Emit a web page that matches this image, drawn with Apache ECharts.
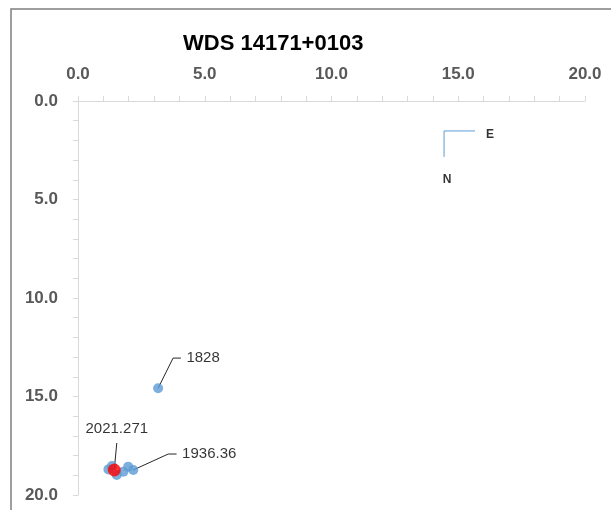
<!DOCTYPE html>
<html>
<head>
<meta charset="utf-8">
<script src="https://cdn.jsdelivr.net/npm/echarts@6/dist/echarts.min.js"></script>
<style>html,body{margin:0;padding:0;background:#fff}#c{width:611px;height:510px}</style>
</head>
<body>
<div id="c"></div>
<script>
const chartTitle = 'WDS 14171+0103';
const axisMin = 0, axisMax = 20, axisStep = 5;
const blueX = [1.20, 1.34, 1.53, 1.79, 1.98, 2.18, 3.16];
const blueY = [18.70, 18.53, 18.98, 18.82, 18.56, 18.73, 14.58];
const redX = [1.43];
const redY = [18.73];
const leader1828 = [[3.16, 14.58], [3.75, 13.05], [4.06, 13.05]];
const leader1936 = [[2.18, 18.73], [3.56, 17.92], [3.89, 17.92]];
const leader2021 = [[1.43, 18.73], [1.53, 17.36]];
const labelNames = ['1828', '1936.36', '2021.271'];
const labelPos = [[4.06, 13.05], [3.89, 17.92], [1.53, 17.36]];
const labelSide = ['right', 'right', 'top'];
const compassLines = [[15.66, 1.52], [14.44, 1.52], [14.44, 2.84]];
const compassNames = ['E', 'N'];
const compassPos = [[16.25, 1.73], [14.56, 4.0]];

const chart = echarts.init(document.getElementById('c'));
const fmt = v => v.toFixed(1);
const axisCommon = {
  type: 'value', min: axisMin, max: axisMax, interval: axisStep,
  axisLine: { show: true, lineStyle: { color: '#d9d9d9', width: 1 } },
  axisTick: { show: true, length: 5, lineStyle: { color: '#d9d9d9' } },
  minorTick: { show: true, splitNumber: 5, length: 5, lineStyle: { color: '#d9d9d9' } },
  splitLine: { show: false },
  axisLabel: { formatter: fmt, fontFamily: 'Liberation Sans', fontWeight: 'bold', fontSize: 17, color: '#595959', margin: 18 }
};
const lineStyleLeader = { color: '#262626', width: 1 };
const series = [
  { type: 'line', data: leader1828, symbol: 'none', lineStyle: lineStyleLeader, silent: true, z: 1 },
  { type: 'line', data: leader1936, symbol: 'none', lineStyle: lineStyleLeader, silent: true, z: 1 },
  { type: 'line', data: leader2021, symbol: 'none', lineStyle: lineStyleLeader, silent: true, z: 1 },
  { type: 'line', data: compassLines, symbol: 'none', lineStyle: { color: '#5b9bd5', width: 1 }, silent: true },
  { type: 'scatter', data: blueX.map((x, i) => [x, blueY[i]]), symbolSize: 10, itemStyle: { color: '#5b9bd5' }, z: 3 },
  { type: 'scatter', data: redX.map((x, i) => [x, redY[i]]), symbolSize: 13, itemStyle: { color: '#ff0000' }, z: 4 },
  { type: 'scatter', symbolSize: 1, itemStyle: { color: 'rgba(0,0,0,0)' }, z: 5,
    data: labelPos.map((p, i) => ({ value: p, name: labelNames[i],
      label: { show: true, position: labelSide[i], distance: labelSide[i] === 'top' ? 6 : 5, formatter: '{b}',
        fontFamily: 'Liberation Sans', fontSize: 15, color: '#000' } })) },
  { type: 'scatter', symbolSize: 1, itemStyle: { color: 'rgba(0,0,0,0)' }, z: 5,
    data: compassPos.map((p, i) => ({ value: p, name: compassNames[i],
      label: { show: true, position: 'inside', formatter: '{b}',
        fontFamily: 'Liberation Sans', fontWeight: 'bold', fontSize: 12, color: '#000' } })) }
];
chart.setOption({
  animation: false,
  title: { text: chartTitle, left: 178, top: 28, textStyle: { fontFamily: 'Liberation Sans', fontWeight: 'bold', fontSize: 22, color: '#000' } },
  grid: { left: 78, top: 101, width: 507, height: 394 },
  xAxis: Object.assign({}, axisCommon, { position: 'top' }),
  yAxis: Object.assign({}, axisCommon, { inverse: true, axisLabel: Object.assign({}, axisCommon.axisLabel, { margin: 20 }) }),
  series: series,
  graphic: [{ type: 'rect', shape: { x: 11, y: 9, width: 700, height: 600 }, style: { fill: 'none', stroke: '#7f7f7f', lineWidth: 1.5 }, silent: true }]
});
</script>
</body>
</html>
